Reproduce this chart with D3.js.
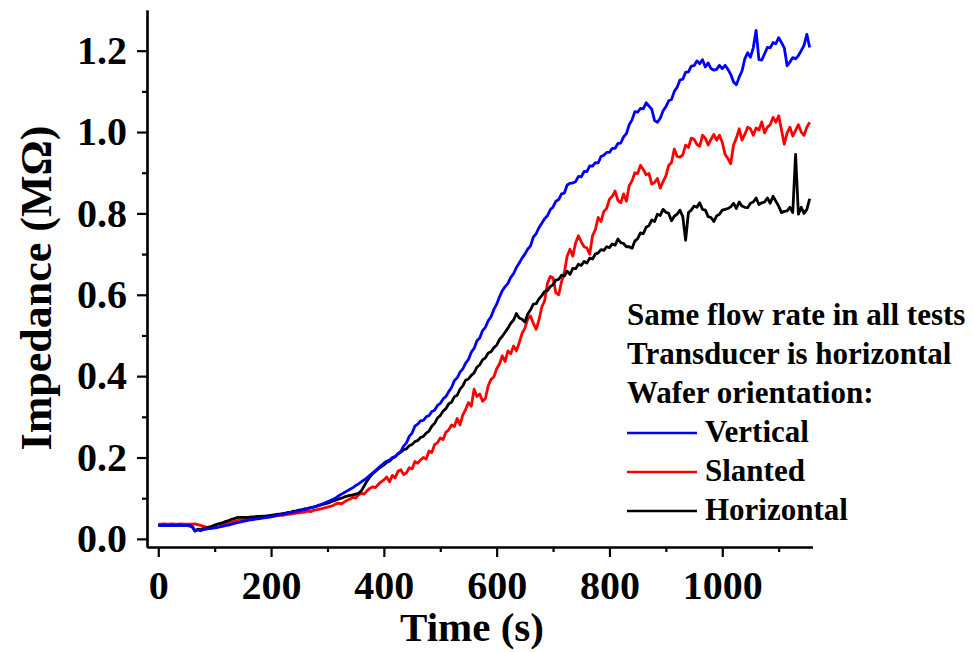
<!DOCTYPE html>
<html>
<head>
<meta charset="utf-8">
<script src="https://cdn.jsdelivr.net/npm/d3@7"></script>
<style>
  html, body { margin: 0; padding: 0; background: #fff; }
  svg text { font-family: "Liberation Serif", "Times New Roman", serif; font-weight: bold; fill: #000; }
</style>
</head>
<body>
<svg id="chart" width="974" height="652"></svg>
<script>
// Sample times (s), one reading every 5 s
const sampleTimes = [
  0,5,10,15,20,25,30,35,40,45,50,55,60,65,70,75,80,85,90,95,
  100,105,110,115,120,125,130,135,140,145,150,155,160,165,170,175,180,185,190,195,
  200,205,210,215,220,225,230,235,240,245,250,255,260,265,270,275,280,285,290,295,
  300,305,310,315,320,325,330,335,340,345,350,355,360,365,370,375,380,385,390,395,
  400,405,410,415,420,425,430,435,440,445,450,455,460,465,470,475,480,485,490,495,
  500,505,510,515,520,525,530,535,540,545,550,555,560,565,570,575,580,585,590,595,
  600,605,610,615,620,625,630,635,640,645,650,655,660,665,670,675,680,685,690,695,
  700,705,710,715,720,725,730,735,740,745,750,755,760,765,770,775,780,785,790,795,
  800,805,810,815,820,825,830,835,840,845,850,855,860,865,870,875,880,885,890,895,
  900,905,910,915,920,925,930,935,940,945,950,955,960,965,970,975,980,985,990,995,
  1000,1005,1010,1015,1020,1025,1030,1035,1040,1045,1050,1055,1060,1065,1070,1075,1080,1085,1090,1095,
  1100,1105,1110,1115,1120,1125,1130,1135,1140,1145,1150,1155
];

// Impedance (MΩ) with the wafer vertical
const verticalImpedance = [
  0.033,0.033,0.034,0.033,0.033,0.034,0.033,0.033,0.034,0.033,0.033,0.032,0.030,0.019,0.022,0.020,0.023,0.024,0.025,0.026,
  0.027,0.028,0.030,0.031,0.033,0.034,0.036,0.038,0.040,0.041,0.043,0.044,0.046,0.047,0.048,0.049,0.050,0.051,0.052,0.053,
  0.054,0.056,0.057,0.059,0.060,0.062,0.063,0.065,0.066,0.068,0.069,0.071,0.072,0.074,0.076,0.078,0.080,0.083,0.085,0.088,
  0.091,0.094,0.097,0.101,0.106,0.110,0.114,0.118,0.122,0.126,0.131,0.135,0.140,0.145,0.150,0.156,0.162,0.168,0.174,0.180,
  0.186,0.191,0.194,0.200,0.202,0.209,0.215,0.228,0.236,0.252,0.260,0.277,0.282,0.290,0.291,0.300,0.303,0.313,0.316,0.328,
  0.333,0.344,0.350,0.362,0.372,0.389,0.396,0.410,0.418,0.432,0.441,0.459,0.468,0.487,0.494,0.512,0.520,0.536,0.546,0.564,
  0.577,0.595,0.610,0.620,0.628,0.643,0.652,0.667,0.678,0.690,0.700,0.712,0.720,0.742,0.750,0.765,0.776,0.787,0.794,0.809,
  0.816,0.830,0.834,0.848,0.850,0.870,0.874,0.875,0.878,0.891,0.890,0.903,0.903,0.917,0.916,0.925,0.924,0.940,0.943,0.950,
  0.950,0.960,0.960,0.972,0.973,0.988,0.996,1.018,1.030,1.050,1.049,1.058,1.057,1.072,1.064,1.056,1.028,1.024,1.034,1.052,
  1.062,1.077,1.080,1.100,1.110,1.128,1.130,1.147,1.148,1.162,1.163,1.175,1.168,1.178,1.160,1.170,1.156,1.152,1.154,1.164,
  1.156,1.164,1.154,1.142,1.123,1.116,1.135,1.150,1.180,1.195,1.184,1.207,1.250,1.178,1.177,1.192,1.208,1.207,1.220,1.217,
  1.232,1.220,1.207,1.163,1.172,1.183,1.180,1.188,1.200,1.213,1.240,1.208
];

// Impedance (MΩ) with the wafer slanted
const slantedImpedance = [
  0.036,0.036,0.037,0.036,0.036,0.037,0.036,0.036,0.037,0.036,0.036,0.036,0.036,0.037,0.035,0.033,0.031,0.029,0.028,0.027,
  0.028,0.029,0.031,0.034,0.037,0.039,0.041,0.043,0.045,0.046,0.047,0.048,0.049,0.050,0.051,0.052,0.052,0.053,0.054,0.055,
  0.055,0.056,0.057,0.058,0.058,0.059,0.060,0.061,0.062,0.063,0.064,0.065,0.066,0.068,0.067,0.070,0.071,0.073,0.074,0.076,
  0.078,0.080,0.082,0.086,0.088,0.086,0.091,0.095,0.098,0.102,0.100,0.108,0.112,0.110,0.118,0.124,0.128,0.126,0.134,0.140,
  0.145,0.152,0.140,0.156,0.150,0.166,0.170,0.158,0.162,0.175,0.172,0.190,0.186,0.194,0.200,0.196,0.216,0.212,0.232,0.236,
  0.248,0.244,0.262,0.268,0.280,0.276,0.296,0.280,0.305,0.318,0.335,0.326,0.368,0.350,0.356,0.338,0.345,0.376,0.392,0.398,
  0.418,0.430,0.450,0.436,0.462,0.455,0.474,0.462,0.482,0.505,0.518,0.540,0.548,0.530,0.515,0.538,0.570,0.585,0.628,0.645,
  0.642,0.605,0.600,0.632,0.655,0.695,0.712,0.695,0.728,0.745,0.730,0.718,0.715,0.700,0.745,0.760,0.790,0.780,0.805,0.812,
  0.835,0.842,0.855,0.832,0.826,0.848,0.830,0.868,0.880,0.900,0.898,0.918,0.908,0.895,0.898,0.872,0.876,0.886,0.862,0.878,
  0.892,0.918,0.925,0.958,0.940,0.938,0.944,0.968,0.962,0.985,0.982,0.970,0.965,0.992,0.985,0.968,0.982,0.994,0.980,0.992,
  0.975,0.945,0.935,0.922,0.968,0.985,1.008,0.980,0.994,1.012,1.008,0.992,1.010,1.005,1.025,0.998,1.012,1.018,1.036,1.024,
  1.040,1.005,0.970,0.998,1.012,0.990,1.004,1.018,1.000,0.992,1.012,1.024
];

// Impedance (MΩ) with the wafer horizontal
const horizontalImpedance = [
  0.033,0.033,0.033,0.034,0.033,0.033,0.033,0.034,0.033,0.033,0.033,0.032,0.031,0.020,0.024,0.022,0.026,0.027,0.029,0.031,
  0.034,0.036,0.038,0.040,0.043,0.045,0.048,0.050,0.052,0.053,0.053,0.053,0.053,0.054,0.054,0.055,0.055,0.056,0.056,0.057,
  0.058,0.059,0.060,0.061,0.062,0.063,0.065,0.066,0.068,0.069,0.071,0.072,0.074,0.075,0.077,0.078,0.080,0.082,0.084,0.086,
  0.088,0.090,0.093,0.095,0.098,0.100,0.103,0.105,0.107,0.108,0.110,0.112,0.118,0.130,0.142,0.152,0.160,0.166,0.172,0.177,
  0.182,0.188,0.191,0.198,0.202,0.209,0.213,0.219,0.221,0.229,0.232,0.239,0.242,0.249,0.252,0.260,0.265,0.277,0.284,0.297,
  0.303,0.314,0.320,0.332,0.336,0.349,0.353,0.368,0.376,0.390,0.393,0.402,0.408,0.422,0.428,0.440,0.445,0.457,0.460,0.470,
  0.476,0.490,0.498,0.508,0.518,0.530,0.538,0.554,0.543,0.540,0.533,0.552,0.563,0.577,0.578,0.590,0.598,0.608,0.610,0.620,
  0.625,0.636,0.638,0.648,0.646,0.658,0.650,0.665,0.664,0.675,0.672,0.682,0.678,0.690,0.688,0.700,0.703,0.711,0.709,0.718,
  0.716,0.725,0.722,0.737,0.728,0.726,0.718,0.718,0.714,0.732,0.738,0.752,0.750,0.766,0.770,0.784,0.780,0.798,0.795,0.810,
  0.803,0.800,0.782,0.793,0.798,0.808,0.792,0.734,0.802,0.808,0.818,0.815,0.826,0.810,0.808,0.792,0.790,0.780,0.794,0.798,
  0.808,0.810,0.812,0.816,0.825,0.812,0.828,0.818,0.815,0.814,0.825,0.828,0.838,0.822,0.826,0.828,0.838,0.825,0.842,0.830,
  0.818,0.802,0.805,0.806,0.815,0.802,0.945,0.798,0.815,0.800,0.810,0.836
];

const xMajorTicks = [0, 200, 400, 600, 800, 1000];
const xMinorTicks = [100, 300, 500, 700, 900, 1100];
const yMajorTicks = [0.0, 0.2, 0.4, 0.6, 0.8, 1.0, 1.2];
const yMinorTicks = [0.1, 0.3, 0.5, 0.7, 0.9, 1.1];

const seriesNames = ["Vertical", "Slanted", "Horizontal"];
const seriesColors = ["#0000ff", "#ff0000", "#000000"];
const noteLines = ["Same flow rate in all tests", "Transducer is horizontal", "Wafer orientation:"];

const svg = d3.select("#chart");
const plotLeft = 147, plotRight = 812.5, plotTop = 10, plotBottom = 547;

const x = d3.scaleLinear().domain([-20, 1160]).range([plotLeft, plotRight]);
const y = d3.scaleLinear().domain([-0.02, 1.3]).range([plotBottom, plotTop]);

// Data lines: slanted first, then horizontal, vertical on top
const seriesValues = {
  Vertical: verticalImpedance,
  Slanted: slantedImpedance,
  Horizontal: horizontalImpedance
};
const line = d3.line()
  .x((d, i) => x(sampleTimes[i]))
  .y(d => y(d));

const drawOrder = ["Slanted", "Horizontal", "Vertical"];
svg.append("g").attr("class", "series")
  .selectAll("path")
  .data(drawOrder)
  .join("path")
  .attr("d", name => line(seriesValues[name]))
  .attr("fill", "none")
  .attr("stroke", name => seriesColors[seriesNames.indexOf(name)])
  .attr("stroke-width", 2.8)
  .attr("stroke-linejoin", "round");

// Axes
function styleAxis(g) {
  g.selectAll(".domain").attr("stroke", "#000").attr("stroke-width", 2.2);
  g.selectAll(".tick line").attr("stroke", "#000").attr("stroke-width", 2.2);
  g.selectAll(".tick text").style("font-size", "40px");
}

svg.append("g")
  .attr("transform", `translate(0,${plotBottom})`)
  .call(d3.axisBottom(x).tickValues(xMinorTicks).tickSize(5).tickSizeOuter(0).tickFormat(""))
  .call(styleAxis);
svg.append("g")
  .attr("transform", `translate(0,${plotBottom})`)
  .call(d3.axisBottom(x).tickValues(xMajorTicks).tickSize(10).tickSizeOuter(0).tickPadding(14).tickFormat(d3.format("d")))
  .call(styleAxis);

svg.append("g")
  .attr("transform", `translate(${plotLeft},0)`)
  .call(d3.axisLeft(y).tickValues(yMinorTicks).tickSize(5).tickSizeOuter(0).tickFormat(""))
  .call(styleAxis);
svg.append("g")
  .attr("transform", `translate(${plotLeft},0)`)
  .call(d3.axisLeft(y).tickValues(yMajorTicks).tickSize(10).tickSizeOuter(0).tickPadding(10).tickFormat(d3.format(".1f")))
  .call(styleAxis);

// Axis titles
svg.append("text")
  .attr("x", 472).attr("y", 641)
  .attr("text-anchor", "middle")
  .style("font-size", "41px")
  .text("Time (s)");

svg.append("text")
  .attr("transform", "translate(51,288) rotate(-90)")
  .attr("text-anchor", "middle")
  .style("font-size", "44px")
  .text("Impedance (MΩ)");

// Notes and legend
const legend = svg.append("g").attr("class", "legend");
legend.selectAll("text.note")
  .data(noteLines)
  .join("text")
  .attr("class", "note")
  .attr("x", 627)
  .attr("y", (d, i) => 325 + i * 39)
  .style("font-size", "31px")
  .text(d => d);

const entries = legend.selectAll("g.entry")
  .data(seriesNames)
  .join("g")
  .attr("class", "entry")
  .attr("transform", (d, i) => `translate(0,${442 + i * 39})`);
entries.append("line")
  .attr("x1", 627).attr("x2", 697)
  .attr("y1", -9).attr("y2", -9)
  .attr("stroke", (d, i) => seriesColors[i])
  .attr("stroke-width", 2.6);
entries.append("text")
  .attr("x", 705).attr("y", 0)
  .style("font-size", "31px")
  .text(d => d);
</script>
</body>
</html>
